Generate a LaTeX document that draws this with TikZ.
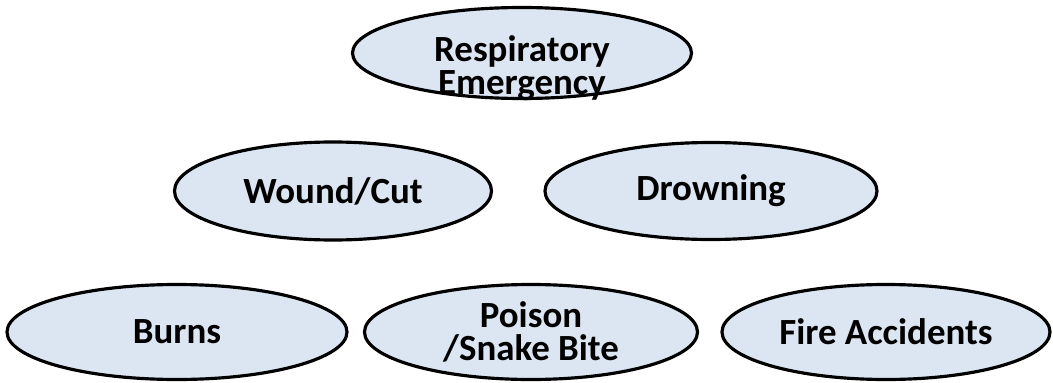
\documentclass[tikz,border=0pt]{standalone}
\usepackage{fontspec}
\setmainfont{Carlito}
\usepackage{tikz}
\usetikzlibrary{shapes.geometric, positioning}
\definecolor{bubblefill}{HTML}{DCE6F2}
\tikzset{
  % --- Tinh huong so cuu ------------------------------------
  bubble/.style={draw, ellipse, fill=bubblefill, line width=1.8pt,
    minimum width=6.6cm, minimum height=1.9cm, align=center,
    font=\fontsize{21}{19}\selectfont\bfseries, inner sep=1pt},
  bubtxt/.style={align=center, font=\fontsize{21}{19}\selectfont\bfseries}
}
\begin{document}
\begin{tikzpicture}

  \useasboundingbox (0,0) rectangle (21.06,7.64);

  % --- Hang 1 ------------------------------------------------
  \node[bubble, minimum width=6.78cm, minimum height=1.82cm,
    label={[bubtxt, yshift=-0.3cm]center:Respiratory\\Emergency}] (RE) at (10.44,6.58) {};

  % --- Hang 2 ------------------------------------------------
  \node[bubble, minimum width=6.34cm, minimum height=1.96cm] (WC) at (6.66,3.82) {Wound/Cut};
  \node[bubble, minimum width=6.64cm, minimum height=1.94cm] (DR) at (14.22,3.82) {Drowning};

  % --- Hang 3 ------------------------------------------------
  \node[bubble, minimum width=6.8cm] (BU) at (3.54,1.0) {Burns};
  \node[bubble, minimum width=6.66cm] (PS) at (10.62,1.0) {Poison\\/Snake Bite};
  \node[bubble, minimum width=6.56cm] (FA) at (17.72,1.0) {Fire Accidents};

\end{tikzpicture}
\end{document}
